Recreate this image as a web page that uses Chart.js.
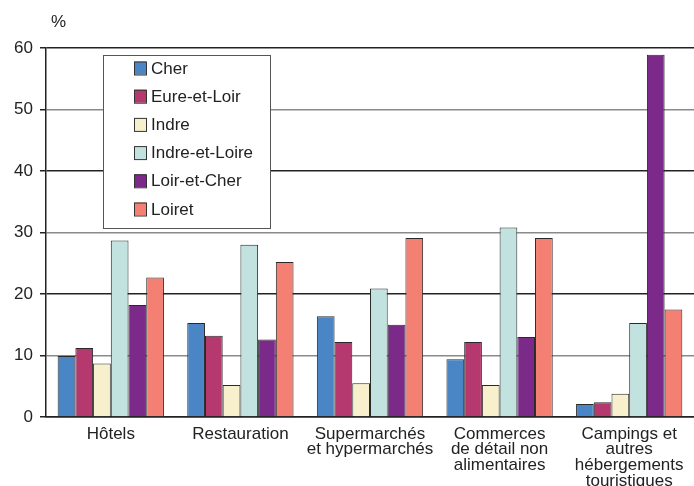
<!DOCTYPE html>
<html>
<head>
<meta charset="utf-8">
<script src="https://cdn.jsdelivr.net/npm/chart.js@4"></script>
<style>
  html, body { margin: 0; padding: 0; background: #fff; }
  #wrap { width: 694px; height: 486px; }
</style>
</head>
<body>
<div id="wrap"><canvas id="chart" width="694" height="486"></canvas></div>
<script>
// Categories and values (%)
const categories = [
  ['Hôtels'],
  ['Restauration'],
  ['Supermarchés', 'et hypermarchés'],
  ['Commerces', 'de détail non', 'alimentaires'],
  ['Campings et', 'autres', 'hébergements', 'touristiques']
];
const departments = ['Cher', 'Eure-et-Loir', 'Indre', 'Indre-et-Loire', 'Loir-et-Cher', 'Loiret'];
const cher = [9.9, 15.3, 16.4, 9.4, 2.1];
const eureEtLoir = [11.2, 13.2, 12.2, 12.2, 2.4];
const indre = [8.7, 5.2, 5.5, 5.2, 3.8];
const indreEtLoire = [28.7, 28.0, 20.9, 30.8, 15.3];
const loirEtCher = [18.2, 12.6, 15.0, 13.0, 58.9];
const loiret = [22.7, 25.2, 29.1, 29.1, 17.5];
const yTicks = [0, 10, 20, 30, 40, 50, 60];

const colors = ['#4a86c5', '#b5386f', '#f8f0cc', '#c2e2e0', '#7b2a8a', '#f47f73'];
const series = [cher, eureEtLoir, indre, indreEtLoire, loirEtCher, loiret];

const FONT = '"Liberation Sans", Arial, sans-serif';

// Legend box drawn inside the plot, plus the "%" unit label
const insideLegend = {
  id: 'insideLegend',
  afterDraw(chart) {
    const ctx = chart.ctx;
    ctx.save();
    ctx.font = '17px ' + FONT;
    ctx.fillStyle = '#222';
    ctx.textBaseline = 'middle';
    ctx.fillText('%', 51, 22);

    ctx.fillStyle = '#fff';
    ctx.fillRect(103, 55, 167, 173);
    ctx.strokeStyle = '#555';
    ctx.lineWidth = 1;
    ctx.strokeRect(103.5, 55.5, 167, 173);

    chart.data.datasets.forEach((ds, i) => {
      const y = 68 + i * 28.2;
      ctx.fillStyle = ds.backgroundColor;
      ctx.fillRect(134, y - 6.5, 12, 13);
      ctx.strokeStyle = '#333';
      ctx.strokeRect(134.5, y - 6, 12, 13);
      ctx.fillStyle = '#222';
      ctx.fillText(ds.label, 151, y + 1);
    });
    ctx.restore();
  }
};

new Chart(document.getElementById('chart').getContext('2d'), {
  type: 'bar',
  data: {
    labels: categories,
    datasets: departments.map((name, i) => ({
      label: name,
      data: series[i],
      backgroundColor: colors[i],
      borderColor: '#2a2a2a',
      borderWidth: 1,
      barPercentage: 1,
      categoryPercentage: 0.82
    }))
  },
  options: {
    responsive: false,
    animation: false,
    layout: { padding: { top: 48, right: 0, left: 0, bottom: 0 } },
    plugins: {
      legend: { display: false },
      tooltip: { enabled: false }
    },
    scales: {
      x: {
        grid: { display: false, drawTicks: false },
        border: { display: true, color: '#222', width: 1.5 },
        ticks: {
          color: '#222',
          font: { family: FONT, size: 17, lineHeight: 0.93 },
          padding: 9,
          maxRotation: 0,
          autoSkip: false
        },
        afterFit(scale) { scale.height = 69; }
      },
      y: {
        min: 0,
        max: 60,
        afterBuildTicks(scale) { scale.ticks = yTicks.map(v => ({ value: v })); },
        grid: {
          color: c => (c.tick && c.tick.value % 20 === 0) ? '#222' : '#8a8a8a',
          lineWidth: 1.5,
          tickLength: 6,
          tickColor: '#222'
        },
        border: { display: true, color: '#222', width: 1.5 },
        ticks: {
          color: '#222',
          font: { family: FONT, size: 17 },
          padding: 7
        },
        afterFit(scale) { scale.width = 46; }
      }
    }
  },
  plugins: [insideLegend]
});
</script>
</body>
</html>
